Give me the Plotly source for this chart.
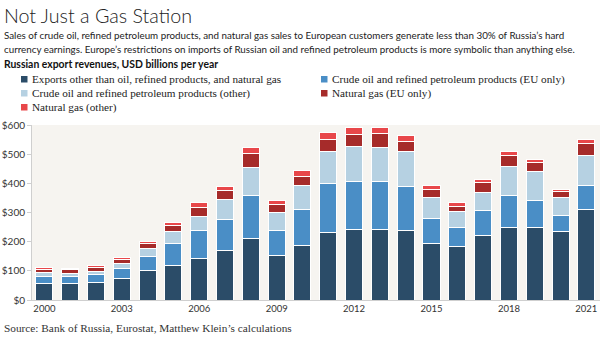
import plotly.graph_objects as go

# Russian export revenues, USD billions per year
years = list(range(2000, 2022))
other_exports = [56, 55, 61, 74, 100, 119, 142, 171, 212, 153, 187, 231, 242, 242, 239, 194, 182, 220, 250, 249, 236, 312]
oil_eu = [25, 27, 26, 35, 48, 75, 95, 106, 147, 87, 123, 167, 166, 163, 151, 84, 67, 88, 110, 91, 55, 82]
oil_other = [12, 8, 12, 16, 29, 40, 51, 68, 95, 60, 84, 111, 117, 119, 118, 73, 53, 62, 98, 100, 62, 100]
gas_eu = [11, 13, 14, 14, 16, 23, 30, 31, 48, 29, 31, 42, 44, 48, 37, 29, 20, 33, 36, 32, 20, 41]
gas_other = [6, 6, 5, 8, 7, 10, 15, 14, 22, 13, 18, 23, 21, 21, 18, 13, 11, 9, 15, 10, 7, 14]

series_names = [
    "Exports other than oil, refined products, and natural gas",
    "Crude oil and refined petroleum products (EU only)",
    "Crude oil and refined petroleum products (other)",
    "Natural gas (EU only)",
    "Natural gas (other)",
]
series_values = [other_exports, oil_eu, oil_other, gas_eu, gas_other]
colors = ["#2b4c68", "#4a8ec6", "#b6d1e2", "#a62b2a", "#e8474a"]

y_ticks = [0, 100, 200, 300, 400, 500, 600]
y_tick_text = ["$0", "$100", "$200", "$300", "$400", "$500", "$600"]
x_ticks = [2000, 2003, 2006, 2009, 2012, 2015, 2018, 2021]

W, H = 600, 344
M_L, M_R, M_T, M_B = 32, 0, 125, 44
PW, PH = W - M_L - M_R, H - M_T - M_B


def px(x):
    return (x - M_L) / PW


def py(y):
    return (H - M_B - y) / PH


fig = go.Figure()
for name, vals, col in zip(series_names, series_values, colors):
    fig.add_trace(go.Bar(
        x=years, y=vals, name=name, marker=dict(color=col, line=dict(color="white", width=1)),
        showlegend=False,
    ))

SANS = "Lato"
SERIF = "Liberation Serif"

annotations = [
    dict(text="Not Just a Gas Station", x=px(2), y=py(15), xanchor="left", yanchor="middle",
         font=dict(family=SANS, size=19.7, color="#222", weight=300)),
    dict(text="Sales of crude oil, refined petroleum products, and natural gas sales to European customers generate less than 30% of Russia’s hard",
         x=px(2), y=py(35), xanchor="left", yanchor="middle",
         font=dict(family=SANS, size=9.8, color="#222")),
    dict(text="currency earnings. Europe’s restrictions on imports of Russian oil and refined petroleum products is more symbolic than anything else.",
         x=px(2), y=py(48.5), xanchor="left", yanchor="middle",
         font=dict(family=SANS, size=9.8, color="#222")),
    dict(text="<b>Russian export revenues, USD billions per year</b>", x=px(2), y=py(64), xanchor="left", yanchor="middle",
         font=dict(family=SANS, size=10.4, color="#111")),
    dict(text="Source: Bank of Russia, Eurostat, Matthew Klein’s calculations", x=px(2), y=py(328), xanchor="left", yanchor="middle",
         font=dict(family=SERIF, size=11.3, color="#333")),
]

# Legend: two columns of colour swatches with labels
legend_pos = [(21, 79), (321, 79), (21, 93), (321, 93), (21, 107)]
shapes = []
for (lx, ly), name, col in zip(legend_pos, series_names, colors):
    shapes.append(dict(type="rect", xref="paper", yref="paper",
                       x0=px(lx), x1=px(lx + 6.5), y0=py(ly + 3.5), y1=py(ly - 3),
                       fillcolor=col, line=dict(width=0)))
    annotations.append(dict(text=name, x=px(lx + 9), y=py(ly), xanchor="left", yanchor="middle",
                            font=dict(family=SERIF, size=11.2, color="#222")))

for a in annotations:
    a.update(xref="paper", yref="paper", showarrow=False)

fig.update_layout(
    width=W, height=H,
    margin=dict(l=M_L, r=M_R, t=M_T, b=M_B),
    barmode="stack", bargap=0.34,
    paper_bgcolor="white", plot_bgcolor="#f6f4f0",
    annotations=annotations, shapes=shapes,
    xaxis=dict(range=[1999.52, 2021.53], tickvals=x_ticks, showgrid=False, zeroline=False,
               showline=True, linecolor="#cfcfcf", linewidth=1, ticks="",
               tickfont=dict(family=SANS, size=9.5, color="#333")),
    yaxis=dict(range=[0, 600], tickvals=y_ticks, ticktext=y_tick_text, showgrid=False, zeroline=False,
               showline=True, linecolor="#cfcfcf", linewidth=1, ticks="outside", ticklen=4,
               tickcolor="#cfcfcf", tickfont=dict(family=SANS, size=10, color="#333")),
    font=dict(family=SANS),
)

fig.write_html("out.html")
